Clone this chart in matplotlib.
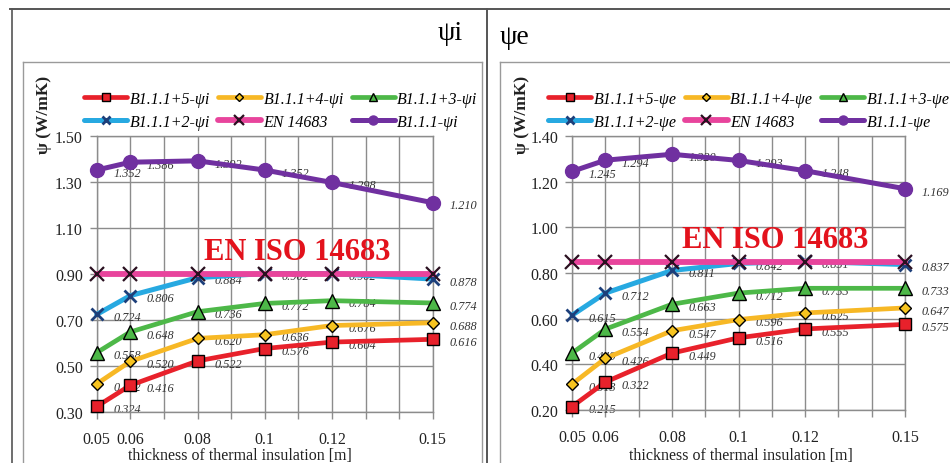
import matplotlib
matplotlib.use('Agg')
import matplotlib.pyplot as plt
from matplotlib.lines import Line2D

plt.rcParams['font.family'] = ['Liberation Serif', 'DejaVu Serif']

W, H = 950, 464

# ---------------- data ----------------
thickness = [0.05, 0.06, 0.08, 0.10, 0.12, 0.15]
xtick_pos = [0.05, 0.06, 0.07, 0.08, 0.09, 0.10, 0.11, 0.12, 0.13, 0.14, 0.15]
xtick_labels = ['0.05', '0.06', '', '0.08', '', '0.1', '', '0.12', '', '', '0.15']

# psi_i panel
psi_i_names = ['B1.1.1+5-ψi', 'B1.1.1+4-ψi', 'B1.1.1+3-ψi', 'B1.1.1+2-ψi', 'EN 14683', 'B1.1.1-ψi']
psi_i_b5 = [0.324, 0.416, 0.522, 0.576, 0.604, 0.616]
psi_i_b4 = [0.422, 0.520, 0.620, 0.636, 0.676, 0.688]
psi_i_b3 = [0.558, 0.648, 0.736, 0.772, 0.784, 0.774]
psi_i_b2 = [0.724, 0.806, 0.884, 0.902, 0.902, 0.878]
psi_i_en = [0.90, 0.90, 0.90, 0.90, 0.90, 0.90]
psi_i_b0 = [1.352, 1.386, 1.392, 1.352, 1.298, 1.210]
psi_i_yticks = [0.30, 0.50, 0.70, 0.90, 1.10, 1.30, 1.50]

# psi_e panel
psi_e_names = ['B1.1.1+5-ψe', 'B1.1.1+4-ψe', 'B1.1.1+3-ψe', 'B1.1.1+2-ψe', 'EN 14683', 'B1.1.1-ψe']
psi_e_b5 = [0.215, 0.322, 0.449, 0.516, 0.555, 0.575]
psi_e_b4 = [0.313, 0.426, 0.547, 0.596, 0.625, 0.647]
psi_e_b3 = [0.449, 0.554, 0.663, 0.712, 0.733, 0.733]
psi_e_b2 = [0.615, 0.712, 0.811, 0.842, 0.851, 0.837]
psi_e_en = [0.85, 0.85, 0.85, 0.85, 0.85, 0.85]
psi_e_b0 = [1.245, 1.294, 1.320, 1.293, 1.248, 1.169]
psi_e_yticks = [0.20, 0.40, 0.60, 0.80, 1.00, 1.20, 1.40]

x_label = 'thickness of thermal insulation [m]'
y_label = 'ψ (W/mK)'
norm_text = 'EN ISO 14683'

# ---------------- styles ----------------
styles = [
    dict(color='#e8212b', marker='s', ms=9, mfc='#e8212b', mec='black', mew=1.0, lw=3.4),
    dict(color='#f7b825', marker='D', ms=6.5, mfc='#f7c420', mec='black', mew=1.0, lw=3.4),
    dict(color='#4db848', marker='^', ms=9.5, mfc='#4db848', mec='black', mew=1.0, lw=3.4),
    dict(color='#27a9e1', marker='x', ms=9, mfc='none', mec='#1d3f7a', mew=2.0, lw=3.6),
    dict(color='#e8449c', marker='x', ms=10, mfc='none', mec='#2a1020', mew=1.6, lw=4.2),
    dict(color='#7030a0', marker='o', ms=10, mfc='#7030a0', mec='#7030a0', mew=1.0, lw=3.6),
]
show_labels = [True, True, True, True, False, True]

GRID = '#8c8c8c'


def fx(px):
    return px / W


def fy(py):
    return 1 - py / H


fig = plt.figure(figsize=(W / 100, H / 100), dpi=100)


def panel(rect_px, series, names, yticks, title, title_xy, title_ha, legend_xy,
          ylabel_xy, xlabel_xy, norm_xy):
    x0, y0, x1, y1 = rect_px
    ax = fig.add_axes([fx(x0), fy(y1), (x1 - x0) / W, (y1 - y0) / H])
    ax.set_xlim(0.05, 0.15)
    ax.set_ylim(yticks[0], yticks[-1])
    ax.set_xticks(xtick_pos)
    ax.set_xticklabels(xtick_labels)
    ax.set_yticks(yticks)
    ax.set_yticklabels(['%.2f' % v for v in yticks])
    ax.grid(True, color=GRID, lw=1.0)
    ax.set_axisbelow(True)
    for s in ax.spines.values():
        s.set_color(GRID)
        s.set_linewidth(1.0)
    ax.tick_params(axis='both', color=GRID, length=5, width=1.0,
                   labelsize=11.5, labelcolor='#222222')
    ax.tick_params(axis='x', pad=9)
    ax.tick_params(axis='y', pad=5)

    handles = []
    for vals, name, st, show in zip(series, names, styles, show_labels):
        h, = ax.plot(thickness, vals, label=name, clip_on=False, zorder=3,
                     solid_capstyle='round', **st)
        handles.append(h)
        if show:
            for xv, yv in zip(thickness, vals):
                ax.annotate('%.3f' % yv, (xv, yv), xytext=(12, -2),
                            textcoords='offset points', ha='left', va='center',
                            fontsize=8.8, style='italic', color='#333333',
                            zorder=2, annotation_clip=False)

    order = [0, 3, 1, 4, 2, 5]
    fig.legend([handles[i] for i in order], [names[i] for i in order],
               ncol=3, loc='upper left',
               bbox_to_anchor=(fx(legend_xy[0]), fy(legend_xy[1])),
               frameon=False, prop=dict(size=11.5, style='italic'),
               handlelength=2.7, handletextpad=0.15, columnspacing=0.5,
               labelspacing=0.42, borderpad=0, borderaxespad=0, markerscale=0.65)

    fig.text(fx(title_xy[0]), fy(title_xy[1]), title, fontsize=20,
             ha=title_ha, va='center')
    fig.text(fx(ylabel_xy[0]), fy(ylabel_xy[1]), y_label, rotation=90,
             fontsize=12.5, fontweight='bold', ha='center', va='center', color='#222222')
    fig.text(fx(xlabel_xy[0]), fy(xlabel_xy[1]), x_label, fontsize=11.5,
             ha='center', va='center', color='#222222')
    fig.text(fx(norm_xy[0]), fy(norm_xy[1]), norm_text, fontsize=22,
             fontweight='bold', color='#e3121c', ha='center', va='center')
    return ax


panel((96.7, 137, 432.7, 413),
      [psi_i_b5, psi_i_b4, psi_i_b3, psi_i_b2, psi_i_en, psi_i_b0],
      psi_i_names, psi_i_yticks, 'ψi', (463, 33), 'right', (84, 92),
      (44, 115), (240, 456), (297, 252))

panel((572, 137, 905, 411),
      [psi_e_b5, psi_e_b4, psi_e_b3, psi_e_b2, psi_e_en, psi_e_b0],
      psi_e_names, psi_e_yticks, 'ψe', (500, 37), 'left', (548, 92),
      (522, 115), (741, 456), (775, 240))

# table frame and inner chart boxes
def fline(xs, ys, color, lw):
    fig.add_artist(Line2D([fx(v) for v in xs], [fy(v) for v in ys],
                          color=color, lw=lw, transform=fig.transFigure))

fline([10, 950], [10, 10], '#555555', 1.4)
fline([11.5, 11.5], [10, 464], '#555555', 1.2)
fline([487, 487], [10, 464], '#555555', 1.4)
fline([23, 481.5], [63, 63], '#9a9a9a', 1.0)
fline([23, 23], [63, 464], '#9a9a9a', 1.0)
fline([481.5, 481.5], [63, 464], '#9a9a9a', 1.0)
fline([500, 950], [63, 63], '#9a9a9a', 1.0)
fline([500, 500], [63, 464], '#9a9a9a', 1.0)

fig.savefig('out.png', dpi=100)
